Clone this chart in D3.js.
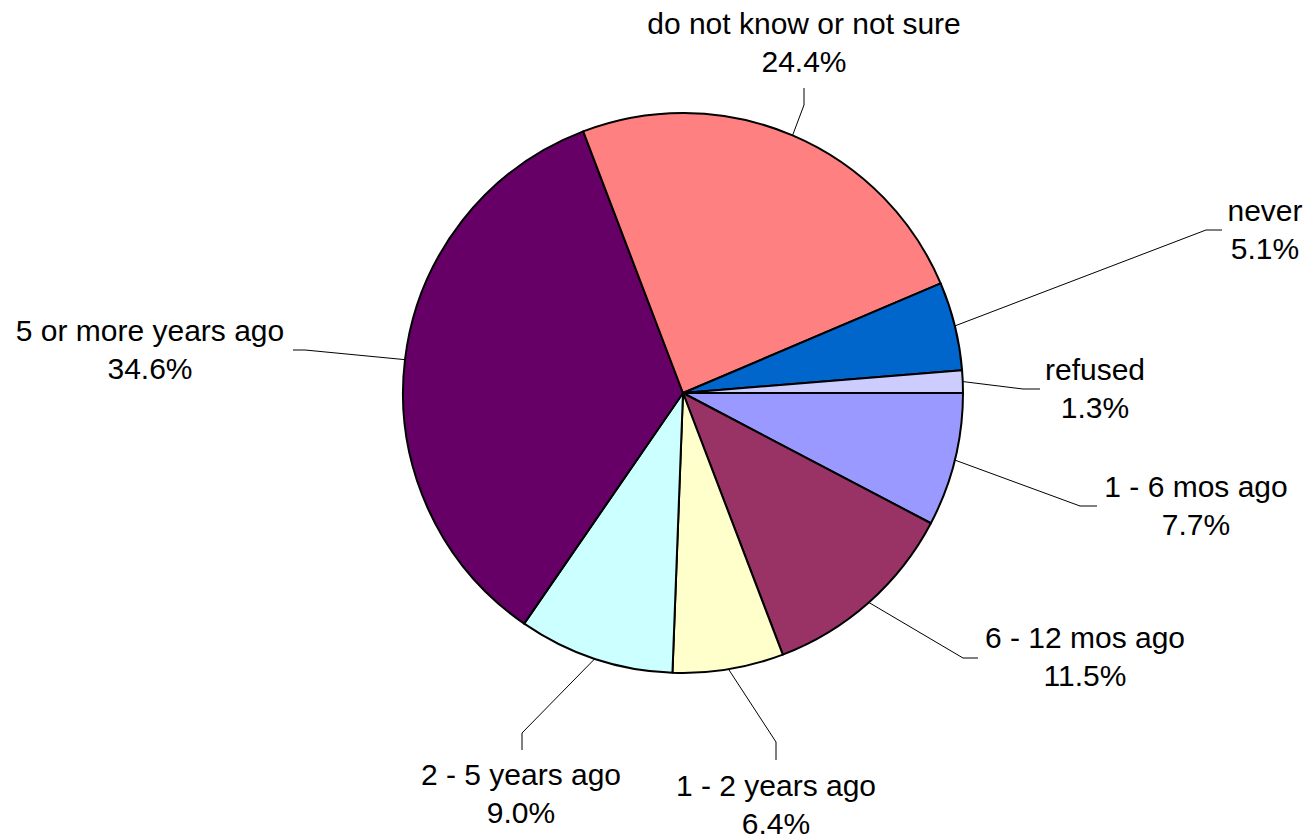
<!DOCTYPE html>
<html><head><meta charset="utf-8">
<script src="https://cdn.jsdelivr.net/npm/d3@7"></script>
<style>body{margin:0;background:#fff}svg{display:block}</style>
</head><body>
<svg id="c" width="1309" height="837"></svg>
<script>
const categories = ["1 - 6 mos ago","6 - 12 mos ago","1 - 2 years ago","2 - 5 years ago","5 or more years ago","do not know or not sure","never","refused"];
const values = [7.7, 11.5, 6.4, 9.0, 34.6, 24.4, 5.1, 1.3];
const colors = ["#9999FF","#993366","#FFFFCC","#CCFFFF","#660066","#FF8080","#0066CC","#CCCCFF"];
// label layout: text centre x, first baseline y, elbow point and elbow end
const labelLayout = [
  {tx:1196, ty:497, ex:1080, ey:506, hx:1097, hy:506},
  {tx:1085, ty:648, ex:963, ey:658, hx:978, hy:658},
  {tx:776, ty:796, ex:776, ey:742, hx:776, hy:760},
  {tx:521, ty:785, ex:522, ey:733, hx:522, hy:750},
  {tx:150, ty:341, ex:305, ey:350, hx:293, hy:350},
  {tx:804, ty:34, ex:804, ey:105, hx:804, hy:88},
  {tx:1265, ty:221, ex:1206, ey:230, hx:1222, hy:230},
  {tx:1095, ty:380, ex:1023, ey:389, hx:1040, hy:389}
];
const cx = 683, cy = 393, r = 280;
const svg = d3.select("#c");
const g = svg.append("g").attr("transform", `translate(${cx},${cy})`);
const pie = d3.pie().sort(null).value(d => d.v).startAngle(Math.PI/2).endAngle(Math.PI/2 + 2*Math.PI);
const data = pie(categories.map((c,i)=>({c, v: values[i], col: colors[i], lay: labelLayout[i]})));
const arc = d3.arc().innerRadius(0).outerRadius(r);
g.selectAll("path.s").data(data).join("path").attr("class","s")
  .attr("d", arc).attr("fill", d => d.data.col)
  .attr("stroke", "#000").attr("stroke-width", 2).attr("stroke-linejoin","round");
// leader lines
svg.selectAll("polyline").data(data).join("polyline")
  .attr("fill","none").attr("stroke","#000").attr("stroke-width",1)
  .attr("points", d => {
    const a = (d.startAngle + d.endAngle)/2;
    const px = cx + r*Math.sin(a), py = cy - r*Math.cos(a);
    const L = d.data.lay;
    return `${px},${py} ${L.ex},${L.ey} ${L.hx},${L.hy}`;
  });
const t = svg.selectAll("text.l").data(data).join("text").attr("class","l")
  .attr("text-anchor","middle").attr("font-family","'Liberation Sans', Arial, sans-serif")
  .attr("font-size", 30).attr("fill","#000");
t.append("tspan").attr("x", d=>d.data.lay.tx).attr("y", d=>d.data.lay.ty).text(d=>d.data.c);
t.append("tspan").attr("x", d=>d.data.lay.tx).attr("y", d=>d.data.lay.ty+38).text(d=>d.data.v.toFixed(1)+"%");
</script>
</body></html>
